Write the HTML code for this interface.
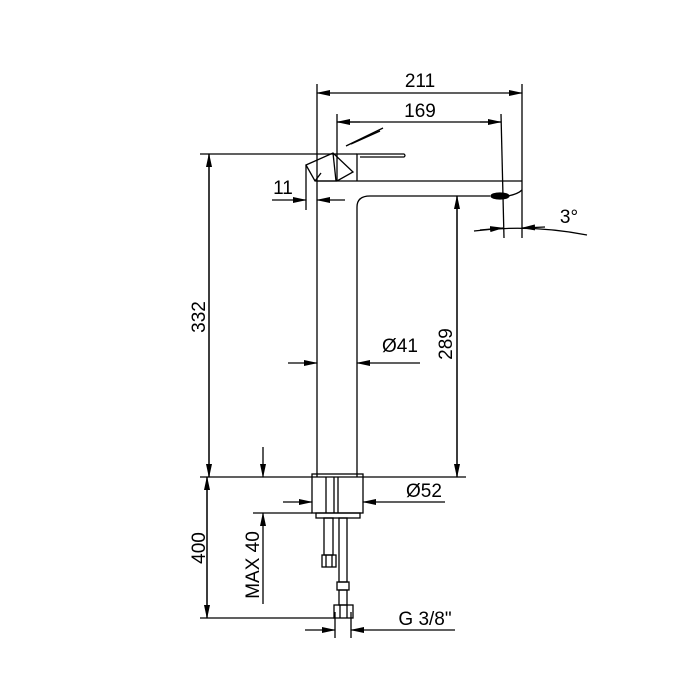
<!DOCTYPE html>
<html><head><style>body{margin:0;background:#fff}svg{display:block}</style></head><body>
<svg width="700" height="700" viewBox="0 0 700 700" xmlns="http://www.w3.org/2000/svg">
<defs>
<marker id="a" markerWidth="14" markerHeight="6" refX="13" refY="3" orient="auto" markerUnits="userSpaceOnUse"><path d="M0,0L14,3L0,6z" fill="#000"/></marker>
</defs>
<g stroke="#000" stroke-width="1.3" fill="none">
<line x1="317" y1="84" x2="317" y2="477"/>
<line x1="522" y1="84" x2="522" y2="238"/>
<line x1="340" y1="93" x2="317" y2="93" marker-end="url(#a)"/>
<line x1="500" y1="93" x2="522" y2="93" marker-end="url(#a)"/>
<line x1="340" y1="93" x2="500" y2="93"/>
<line x1="337" y1="114" x2="337" y2="181"/>
<line x1="501" y1="114" x2="504" y2="238"/>
<line x1="337" y1="122" x2="501" y2="122"/>
<line x1="360" y1="122" x2="337" y2="122" marker-end="url(#a)"/>
<line x1="480" y1="122" x2="501" y2="122" marker-end="url(#a)"/>
<line x1="317" y1="181" x2="522" y2="181"/>
<path d="M357,477 L357,207 Q357,196 370,196 L490,196"/>
<path d="M508,196 Q518,194 522,190"/>
<ellipse cx="500" cy="196" rx="9" ry="3" fill="#000"/>
<!-- handle -->
<line x1="200" y1="154" x2="357" y2="154"/>
<path d="M357,181 L357,154 L404,154 Q406,155.5 404,157 L360,157"/>
<polygon points="306,165 333,153 353,172 337,181 315,181"/>
<line x1="333" y1="153" x2="336" y2="181"/>
<line x1="315" y1="181" x2="321" y2="173"/>
<line x1="346" y1="146" x2="383" y2="128"/>
<line x1="351" y1="144" x2="380" y2="131"/>
<line x1="306" y1="165" x2="306" y2="210"/>
<line x1="272" y1="200" x2="306" y2="200" marker-end="url(#a)"/>
<line x1="345" y1="200" x2="317" y2="200" marker-end="url(#a)"/>
<path d="M474,231 Q530,224 587,235"/>
<line x1="480" y1="230" x2="503" y2="228" marker-end="url(#a)"/>
<line x1="545" y1="227" x2="522" y2="228" marker-end="url(#a)"/>
<line x1="209" y1="154" x2="209" y2="477" marker-end="url(#a)"/>
<line x1="209" y1="477" x2="209" y2="154" marker-end="url(#a)"/>
<line x1="457" y1="196" x2="457" y2="477" marker-end="url(#a)"/>
<line x1="457" y1="477" x2="457" y2="196" marker-end="url(#a)"/>
<line x1="288" y1="363" x2="317" y2="363" marker-end="url(#a)"/>
<line x1="420" y1="363" x2="357" y2="363" marker-end="url(#a)"/>
<line x1="200" y1="477" x2="466" y2="477"/>
<rect x="312" y="474" width="51" height="39"/>
<line x1="326" y1="477" x2="326" y2="513"/>
<line x1="334" y1="477" x2="334" y2="513"/>
<line x1="338" y1="477" x2="338" y2="513"/>
<rect x="316" y="513" width="44" height="5"/>
<line x1="283" y1="502" x2="312" y2="502" marker-end="url(#a)"/>
<line x1="445" y1="502" x2="363" y2="502" marker-end="url(#a)"/>
<rect x="324" y="518" width="9" height="37"/>
<rect x="322" y="555" width="14" height="12"/>
<line x1="326" y1="555" x2="326" y2="567"/><line x1="332" y1="555" x2="332" y2="567"/>
<rect x="339" y="518" width="8" height="64"/>
<rect x="337" y="582" width="12" height="8"/>
<rect x="339" y="590" width="8" height="15"/>
<rect x="334" y="605" width="19" height="13"/>
<line x1="340" y1="605" x2="340" y2="618"/><line x1="347" y1="605" x2="347" y2="618"/>
<line x1="200" y1="618" x2="335" y2="618"/>
<line x1="207" y1="477" x2="207" y2="618" marker-end="url(#a)"/>
<line x1="207" y1="618" x2="207" y2="477" marker-end="url(#a)"/>
<line x1="253" y1="513" x2="312" y2="513"/>
<line x1="263" y1="447" x2="263" y2="477" marker-end="url(#a)"/>
<line x1="263" y1="604" x2="263" y2="513" marker-end="url(#a)"/>
<line x1="335" y1="612" x2="335" y2="638"/>
<line x1="351" y1="612" x2="351" y2="638"/>
<line x1="305" y1="630" x2="335" y2="630" marker-end="url(#a)"/>
<line x1="455" y1="630" x2="351" y2="630" marker-end="url(#a)"/>
</g>
<g font-family="Liberation Sans, sans-serif" font-size="19" fill="#000">
<text x="420" y="87" text-anchor="middle">211</text>
<text x="420" y="117" text-anchor="middle">169</text>
<text x="283" y="194" text-anchor="middle">11</text>
<text x="569" y="223" text-anchor="middle">3°</text>
<text x="400" y="352" text-anchor="middle">Ø41</text>
<text x="424" y="497" text-anchor="middle">Ø52</text>
<text x="425" y="625" text-anchor="middle">G 3/8"</text>
<text transform="translate(205,317) rotate(-90)" text-anchor="middle">332</text>
<text transform="translate(452,344) rotate(-90)" text-anchor="middle">289</text>
<text transform="translate(205,548) rotate(-90)" text-anchor="middle">400</text>
<text transform="translate(259,565) rotate(-90)" text-anchor="middle">MAX 40</text>
</g>
</svg>
</body></html>
